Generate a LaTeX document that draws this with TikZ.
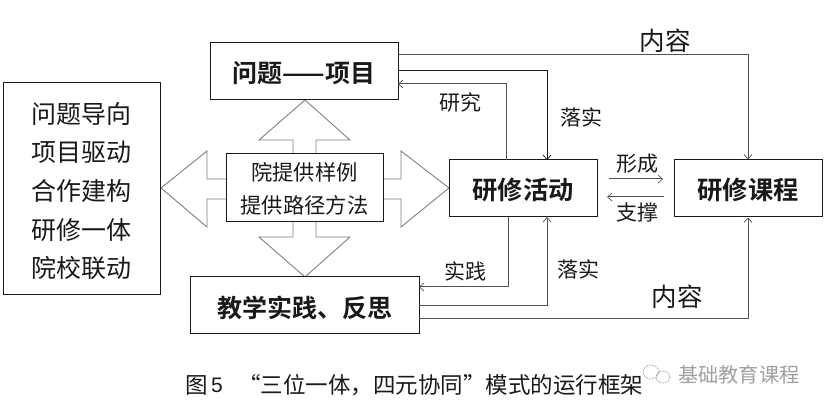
\documentclass[tikz,border=0pt]{standalone}
\usepackage{fontspec}
\setmainfont{Liberation Sans}
\newfontfamily\cjk{Noto Sans CJK SC}
\newfontfamily\cjkb{Noto Sans CJK SC Bold}
\usetikzlibrary{arrows.meta,calc}
\definecolor{ink}{gray}{0.10}
\definecolor{midline}{gray}{0.32}
\definecolor{light}{gray}{0.50}
\tikzset{
  x=1pt,y=-1pt,
  boxa/.style={draw=ink,line width=1pt,fill=white,inner sep=0pt},
  boxtext/.style={inner sep=0pt,align=center,text=ink},
  hollow/.style={draw=light,line width=0.9pt,fill=white,line join=miter},
  conn/.style={draw=midline,line width=1pt,-{Straight Barb[length=4.5pt,width=8pt,line width=0.7pt]}},
  lbl/.style={inner sep=0pt,text=ink,font=\fontsize{21}{23}\cjk},
  lblbig/.style={inner sep=0pt,text=ink,font=\fontsize{25.5}{27}\cjk},
  capt/.style={inner sep=0pt,text=ink,font=\fontsize{22.5}{25}\cjk,anchor=west},
}
\begin{document}
\begin{tikzpicture}
\useasboundingbox (0,0) rectangle (825,411);
% hollow arrows
\draw[hollow] (293,154)--(293,140)--(259,140)--(305,100)--(350,140)--(316,140)--(316,154);
\draw[hollow] (293,222)--(293,237)--(259,237)--(305,277)--(350,237)--(316,237)--(316,222);
\draw[hollow] (226,179)--(207,179)--(207,151)--(161,188)--(207,227)--(207,199)--(226,199);
\draw[hollow] (383,179)--(401,179)--(401,151)--(449,188)--(401,227)--(401,199)--(383,199);
% boxes
\node[boxa,minimum width=157pt,minimum height=212pt] (guide) at (81.5,189) {};
\node[boxa,minimum width=188pt,minimum height=57pt] (problem) at (304,71.5) {};
\node[boxa,minimum width=157pt,minimum height=68pt] (centre) at (304.5,188) {};
\node[boxa,minimum width=148pt,minimum height=57pt] (activity) at (523,188.5) {};
\node[boxa,minimum width=148pt,minimum height=57pt] (course) at (748,188.5) {};
\node[boxa,minimum width=229pt,minimum height=57pt] (practice) at (304.5,305.5) {};
% box texts
\node[boxtext,font=\fontsize{25}{38.6}\cjk] (guidetxt) at (81,191) {问题导向\\项目驱动\\合作建构\\研修一体\\院校联动};
\node[boxtext,font=\fontsize{25}{27}\cjkb] (problemtxt) at (304,73) {问题——项目};
\node[boxtext,font=\fontsize{21.3}{33}\cjk] (centretxt) at (304.5,189) {院提供样例\\提供路径方法};
\node[boxtext,font=\fontsize{25.3}{27}\cjkb] (activitytxt) at (523,190) {研修活动};
\node[boxtext,font=\fontsize{25.3}{27}\cjkb] (coursetxt) at (748,190) {研修课程};
\node[boxtext,font=\fontsize{25}{27}\cjkb] (practicetxt) at (304.5,308) {教学实践、反思};
% connector anchors
\coordinate (t1) at (398,55);
\coordinate (t2) at (398,71);
\coordinate (t3) at (398,84);
\coordinate (a1) at (547,160);
\coordinate (a2) at (506,160);
\coordinate (a3) at (508,217);
\coordinate (a4) at (547,217);
\coordinate (p1) at (419,287);
\coordinate (p2) at (419,306);
\coordinate (p3) at (419,319);
\coordinate (f1) at (609,179);
\coordinate (f2) at (663,179);
\coordinate (s1) at (664,197);
\coordinate (s2) at (607,197);
% connectors
\draw[conn] (t1) -| (course.north);
\draw[conn,draw=ink] (t2) -| (a1);
\draw[conn] (a2) |- (t3);
\draw[conn] (a3) |- (p1);
\draw[conn] (p2) -| (a4);
\draw[conn] (p3) -| (course.south);
\draw[conn] (f1) -- (f2);
\draw[conn] (s1) -- (s2);
% labels
\node[lblbig] (l1) at (665,41) {内容};
\node[lblbig] (l2) at (677,297) {内容};
\node[lbl] (l3) at (460,102) {研究};
\node[lbl] (l4) at (581,117) {落实};
\node[lbl] (l5) at (465,271) {实践};
\node[lbl] (l6) at (578,269) {落实};
\node[lbl] (l7) at (637,164) {形成};
\node[lbl] (l8) at (637,213) {支撑};
% caption
\node[capt] (cap1) at (185,385) {图};
\node[capt,font=\fontsize{21}{24}\selectfont] (cap2) at (211,385) {5};
\node[capt] (cap3) at (238,385) {“三位一体，四元协同”模式的运行框架};
% watermark
\begin{scope}[draw=light!70,line width=0.7pt,dash pattern=on 2pt off 1pt]
\draw (651,372) ellipse [x radius=8,y radius=7];
\draw (663,377) ellipse [x radius=7,y radius=6];
\end{scope}
\node[capt,text=gray!75,font=\fontsize{20.2}{22}\cjk] (wm) at (678,375) {基础教育课程};
\end{tikzpicture}
\end{document}
